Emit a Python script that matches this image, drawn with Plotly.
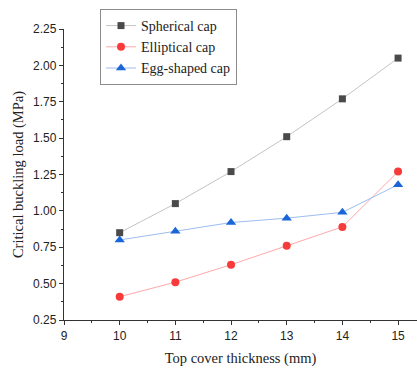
import plotly.graph_objects as go

thickness = [10, 11, 12, 13, 14, 15]
spherical = [0.85, 1.05, 1.27, 1.51, 1.77, 2.05]
elliptical = [0.41, 0.51, 0.63, 0.76, 0.89, 1.27]
egg = [0.80, 0.86, 0.92, 0.95, 0.99, 1.18]

x_ticks = [9, 10, 11, 12, 13, 14, 15]
y_ticks = [0.25, 0.50, 0.75, 1.00, 1.25, 1.50, 1.75, 2.00, 2.25]

fig = go.Figure()
fig.add_trace(go.Scatter(x=thickness, y=spherical, name="Spherical cap", mode="lines+markers",
                         line=dict(color="#c4c4c4", width=1),
                         marker=dict(symbol="square", size=7, color="#4a4a4a")))
fig.add_trace(go.Scatter(x=thickness, y=elliptical, name="Elliptical cap", mode="lines+markers",
                         line=dict(color="#ffa8a8", width=1),
                         marker=dict(symbol="circle", size=8, color="#f73a3a")))
fig.add_trace(go.Scatter(x=thickness, y=egg, name="Egg-shaped cap", mode="lines+markers",
                         line=dict(color="#9dbdf0", width=1),
                         marker=dict(symbol="triangle-up", size=9, color="#1a66d9")))

tickfont = dict(family="Liberation Sans, Arial", size=12, color="#222")
titlefont = dict(family="Liberation Serif, Times New Roman", size=14.5, color="#222")

L, R, T, B, W, H = 64, 0, 29, 49, 417, 369
pw, ph = W - L - R, H - T - B

fig.update_layout(
    width=W, height=H,
    margin=dict(l=L, r=R, t=T, b=B),
    paper_bgcolor="white", plot_bgcolor="white",
    showlegend=True,
    legend=dict(x=(100 - L) / pw, y=1 + (T - 9) / ph, xanchor="left", yanchor="top",
                bordercolor="#8c8c8c", borderwidth=1, bgcolor="white",
                font=dict(family="Liberation Serif, Times New Roman", size=14, color="#222"),
                tracegroupgap=0, itemwidth=30),
    xaxis=dict(range=[9, 15.34], tickvals=x_ticks, ticks="outside", ticklen=4, tickwidth=1,
               tickcolor="#333", showline=True, linecolor="#333", linewidth=1.3, showgrid=False,
               zeroline=False, tickfont=tickfont,
               minor=dict(dtick=0.5, ticks="outside", ticklen=2, tickcolor="#333", showgrid=False),
               title=dict(text="Top cover thickness (mm)", font=titlefont, standoff=11)),
    yaxis=dict(range=[0.25, 2.25], tickvals=y_ticks, ticktext=[f"{v:.2f}" for v in y_ticks],
               ticks="outside", ticklen=4, tickwidth=1, tickcolor="#333", showline=True,
               linecolor="#333", linewidth=1.3, showgrid=False, zeroline=False, tickfont=tickfont,
               minor=dict(dtick=0.125, ticks="outside", ticklen=2, tickcolor="#333", showgrid=False),
               title=dict(text="Critical buckling load (MPa)", font=titlefont, standoff=6)),
)
fig.write_html("out.html")
